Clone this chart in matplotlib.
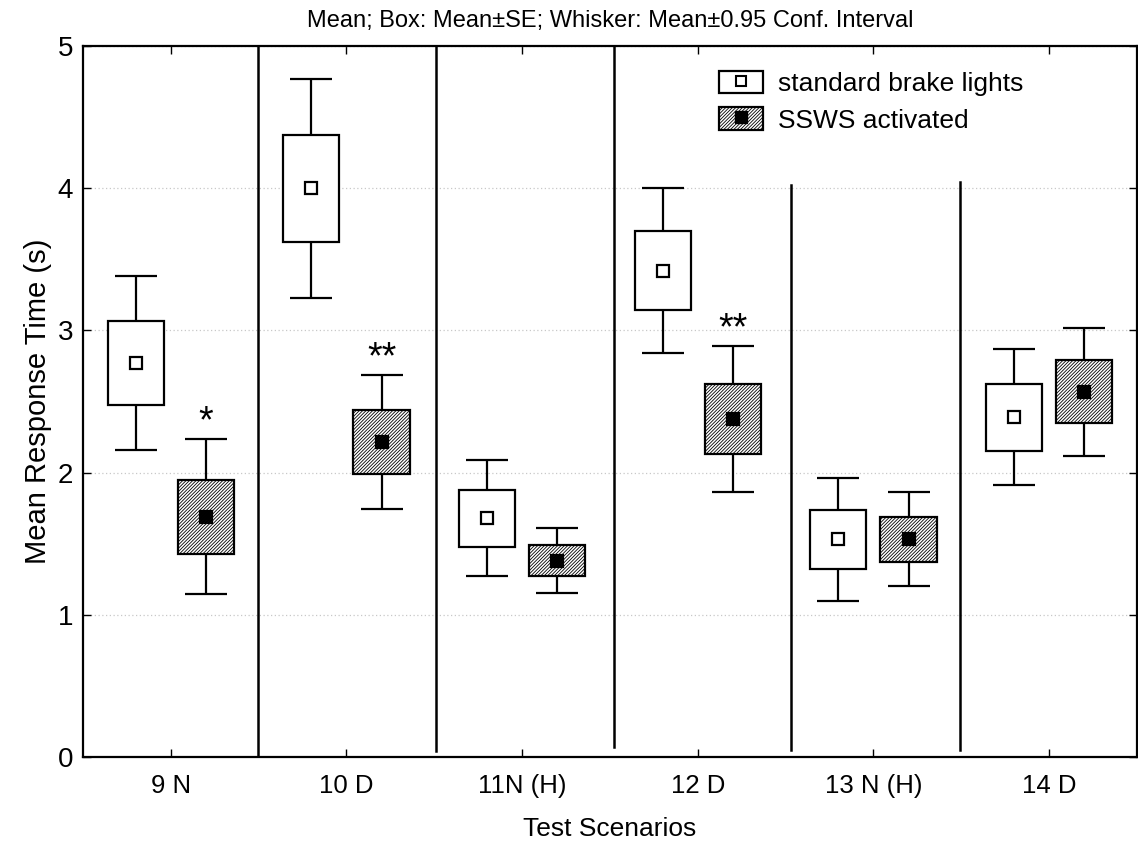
import matplotlib
matplotlib.use("Agg")
import matplotlib.pyplot as plt
import numpy as np
from matplotlib.patches import Patch
from matplotlib.lines import Line2D
from matplotlib.legend_handler import HandlerTuple

# ---------------------------------------------------------
# Datos
# ---------------------------------------------------------
escenarios = ["9 N", "10 D", "11N (H)", "12 D", "13 N (H)", "14 D"]

std_media = [2.77, 4.00, 1.68, 3.42, 1.53, 2.39]
std_se = [0.295, 0.375, 0.200, 0.280, 0.210, 0.235]
std_ic = [0.610, 0.770, 0.410, 0.580, 0.430, 0.480]

ssws_media = [1.69, 2.215, 1.38, 2.375, 1.53, 2.57]
ssws_se = [0.260, 0.225, 0.110, 0.245, 0.160, 0.220]
ssws_ic = [0.545, 0.470, 0.230, 0.515, 0.330, 0.450]

significancia = ["*", "**", "", "**", "", ""]

# líneas verticales separadoras (dibujadas a mano en el original)
sep_x = [0.494, 1.511, 2.523, 3.528, 4.494]
sep_ymin = [0.0, 0.04, 0.07, 0.05, 0.05]
sep_ymax = [5.0, 5.0, 5.0, 4.02, 4.04]

plt.rcParams["font.family"] = ["Liberation Sans", "DejaVu Sans"]
plt.rcParams["hatch.linewidth"] = 0.6

fig = plt.figure(figsize=(11.38, 8.47), dpi=100)
ax = fig.add_axes([0.0729, 0.1063, 0.9262, 0.8394])

x = np.arange(len(escenarios))
desp = 0.2
ancho = 0.32
rayado = "//////////"


def dibujar_grupo(pos, media, se, ic, hatch, color_marca):
    media = np.array(media)
    se = np.array(se)
    ic = np.array(ic)
    ax.errorbar(pos, media, yerr=ic, fmt="none", ecolor="black",
                elinewidth=1.6, capsize=15, capthick=1.6, zorder=2)
    ax.bar(pos, 2 * se, bottom=media - se, width=ancho, facecolor="white",
           edgecolor="black", linewidth=1.6, hatch=hatch, zorder=3)
    ax.plot(pos, media, "s", markersize=8.5, markerfacecolor=color_marca,
            markeredgecolor="black", markeredgewidth=1.6, zorder=4)


dibujar_grupo(x - desp, std_media, std_se, std_ic, None, "white")
dibujar_grupo(x + desp, ssws_media, ssws_se, ssws_ic, rayado, "black")

# asteriscos de significancia
for i, s in enumerate(significancia):
    if s:
        ytop = ssws_media[i] + ssws_ic[i]
        ax.text(x[i] + desp, ytop - 0.01, s, ha="center", va="bottom",
                fontsize=27)

for sx, y0, y1 in zip(sep_x, sep_ymin, sep_ymax):
    ax.plot([sx, sx], [y0, y1], color="black", linewidth=1.8, zorder=1)

ax.set_xlim(-0.5, 5.5)
ax.set_ylim(0, 5)
ax.set_xticks(x)
ax.set_xticklabels(escenarios, fontsize=18.5)
ax.set_yticks([0, 1, 2, 3, 4, 5])
ax.tick_params(axis="y", labelsize=20, direction="in", length=6, width=1,
               right=True, pad=7)
ax.tick_params(axis="x", direction="in", length=6, width=1, top=True, pad=12)
ax.yaxis.grid(True, linestyle=(0, (1, 2)), color="#c8c8c8", linewidth=0.9)
ax.set_axisbelow(True)
for sp in ax.spines.values():
    sp.set_linewidth(1.6)

ax.set_xlabel("Test Scenarios", fontsize=19, labelpad=14)
ax.set_ylabel("Mean Response Time (s)", fontsize=21, labelpad=4)
ax.set_title("Mean; Box: Mean±SE; Whisker: Mean±0.95 Conf. Interval",
             fontsize=17, pad=14)

# leyenda
h_std = (Patch(facecolor="white", edgecolor="black", linewidth=1.6),
         Line2D([], [], marker="s", linestyle="none", markersize=6.5,
                markerfacecolor="white", markeredgecolor="black",
                markeredgewidth=1.5))
h_ssws = (Patch(facecolor="white", edgecolor="black", linewidth=1.6,
                hatch=rayado),
          Line2D([], [], marker="s", linestyle="none", markersize=8.5,
                 markerfacecolor="black", markeredgecolor="black"))
ax.legend([h_std, h_ssws], ["standard brake lights", "SSWS activated"],
          handler_map={tuple: HandlerTuple(ndivide=1, pad=0)},
          loc="upper left", bbox_to_anchor=(0.583, 0.995), frameon=False,
          fontsize=19, handlelength=1.7, handleheight=0.95, handletextpad=0.55,
          labelspacing=0.42, borderpad=0.3)

fig.savefig("out.png", dpi=100)
